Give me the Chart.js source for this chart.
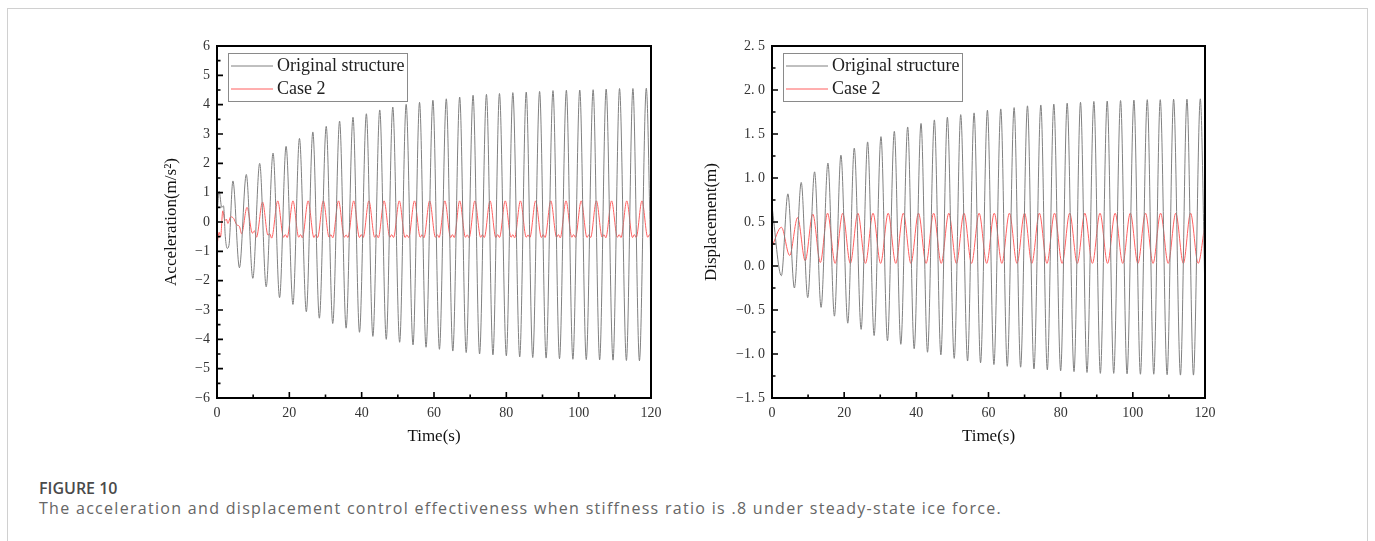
<!DOCTYPE html>
<html>
<head>
<meta charset="utf-8">
<script src="https://cdn.jsdelivr.net/npm/chart.js@4.4.0/dist/chart.umd.min.js"></script>
<style>
    html, body { margin: 0; padding: 0; background: #fff; }
    body { width: 1375px; height: 541px; position: relative; overflow: hidden; }
    #frame { position: absolute; left: 7px; top: 8px; width: 1359px; height: 620px; border: 1px solid #d0d0d0; }
    .box { position: absolute; top: 30px; height: 430px; }
    #accBox { left: 150px; width: 520px; }
    #dispBox { left: 690px; width: 535px; }
    #figLabel { position: absolute; left: 39px; top: 477px; font: 600 16px "Open Sans"; color: #4a4a4a; }
    #caption { position: absolute; left: 39px; top: 497px; font: 16px "Open Sans"; letter-spacing: 1.3px; color: #666; white-space: nowrap; }
</style>
</head>
<body>
<div id="frame"></div>
<div class="box" id="accBox"><canvas id="accChart"></canvas></div>
<div class="box" id="dispBox"><canvas id="dispChart"></canvas></div>
<div id="figLabel">FIGURE 10</div>
<div id="caption">The acceleration and displacement control effectiveness when stiffness ratio is .8 under steady-state ice force.</div>
<script>
// time axis
const xTicks = [0, 20, 40, 60, 80, 100, 120];
const xTickLabels = ['0', '20', '40', '60', '80', '100', '120'];

// acceleration axis
const accTicks = [-6, -5, -4, -3, -2, -1, 0, 1, 2, 3, 4, 5, 6];
const accTickLabels = ['\u22126', '\u22125', '\u22124', '\u22123', '\u22122', '\u22121', '0', '1', '2', '3', '4', '5', '6'];

// displacement axis
const dispTicks = [-1.5, -1, -0.5, 0, 0.5, 1, 1.5, 2, 2.5];
const dispTickLabels = ['\u22121. 5', '\u22121. 0', '\u22120. 5', '0. 0', '0. 5', '1. 0', '1. 5', '2. 0', '2. 5'];

const seriesNames = ['Original structure', 'Case 2'];

// original structure: times of the peaks and troughs (same for both responses)
const origPeakT = [4.4, 8.1, 11.8, 15.5, 19.1, 22.8, 26.5, 30.2, 33.9, 37.6, 41.3, 45.0, 48.6, 52.3, 56.0, 59.7,
    63.4, 67.1, 70.8, 74.5, 78.1, 81.8, 85.5, 89.2, 92.9, 96.6, 100.3, 104.0, 107.6, 111.3, 115.0, 118.7];
const origTroughT = [6.2, 9.9, 13.6, 17.3, 21.0, 24.7, 28.3, 32.0, 35.7, 39.4, 43.1, 46.8, 50.5, 54.2, 57.8, 61.5,
    65.2, 68.9, 72.6, 76.3, 80.0, 83.7, 87.3, 91.0, 94.7, 98.4, 102.1, 105.8, 109.5, 113.2, 116.8];

// acceleration, original structure
const accOrigStartT = [0, 0.6, 1.3, 1.8, 2.3, 2.8, 3.3];
const accOrigStartV = [0.2, 1.05, 0.5, 0.55, -0.5, -0.9, -0.8];
const accOrigPeakV = [1.40, 1.62, 2.00, 2.35, 2.58, 2.85, 3.07, 3.26, 3.44, 3.57, 3.69, 3.82, 3.92, 4.01, 4.08, 4.15,
    4.20, 4.26, 4.32, 4.35, 4.38, 4.41, 4.43, 4.45, 4.48, 4.49, 4.50, 4.51, 4.53, 4.55, 4.55, 4.56];
const accOrigTroughV = [-1.56, -1.92, -2.21, -2.58, -2.81, -3.06, -3.28, -3.46, -3.62, -3.76, -3.90, -4.00, -4.10, -4.19, -4.27, -4.34,
    -4.40, -4.45, -4.50, -4.53, -4.56, -4.60, -4.62, -4.64, -4.66, -4.68, -4.69, -4.70, -4.71, -4.72, -4.73];
const accOrigEnd = [120, -1.8];

// acceleration, case 2
const caseAccT = [
    0, 0.6, 1.0, 1.6, 2.2, 2.6, 3.0, 3.8, 4.6, 5.5, 6.2, 6.8,
    8.3, 9.8, 10.4, 10.9,
    12.6, 14.1, 14.6, 15.1,
    16.8, 18.4, 18.9, 19.4,
    21.0, 22.6, 23.1, 23.6,
    25.2, 26.8, 27.3, 27.8,
    29.4, 31.0, 31.5, 32.0,
    33.6, 35.2, 35.7, 36.2,
    37.8, 39.4, 39.9, 40.4,
    42.0, 43.6, 44.1, 44.6,
    46.2, 47.8, 48.3, 48.8,
    50.4, 52.0, 52.5, 53.0,
    54.6, 56.2, 56.7, 57.2,
    58.8, 60.4, 60.9, 61.4,
    63.0, 64.6, 65.1, 65.6,
    67.1, 68.7, 69.2, 69.7,
    71.3, 72.9, 73.4, 73.9,
    75.5, 77.1, 77.6, 78.1,
    79.7, 81.3, 81.8, 82.3,
    83.9, 85.5, 86.0, 86.5,
    88.1, 89.7, 90.2, 90.7,
    92.3, 93.9, 94.4, 94.9,
    96.5, 98.1, 98.6, 99.1,
    100.7, 102.3, 102.8, 103.3,
    104.9, 106.5, 107.0, 107.5,
    109.1, 110.7, 111.2, 111.7,
    113.3, 114.9, 115.4, 115.9,
    117.5, 119.1, 119.6, 120
];
const caseAccV = [
    -0.80, -0.35, -0.50, 0.38, 0.05, 0.10, -0.05, 0.18, 0.12, -0.10, -0.15, -0.40,
    0.50, -0.38, -0.30, -0.52,
    0.68, -0.45, -0.40, -0.55,
    0.72, -0.52, -0.43, -0.53,
    0.72, -0.52, -0.43, -0.54,
    0.72, -0.53, -0.43, -0.53,
    0.72, -0.52, -0.43, -0.54,
    0.72, -0.52, -0.44, -0.53,
    0.72, -0.53, -0.43, -0.53,
    0.72, -0.52, -0.43, -0.54,
    0.72, -0.52, -0.43, -0.53,
    0.72, -0.53, -0.44, -0.53,
    0.72, -0.52, -0.43, -0.54,
    0.72, -0.52, -0.43, -0.53,
    0.72, -0.53, -0.43, -0.53,
    0.72, -0.52, -0.44, -0.54,
    0.72, -0.52, -0.43, -0.53,
    0.72, -0.53, -0.43, -0.53,
    0.72, -0.52, -0.43, -0.54,
    0.72, -0.52, -0.44, -0.53,
    0.72, -0.53, -0.43, -0.53,
    0.72, -0.52, -0.43, -0.54,
    0.72, -0.52, -0.43, -0.53,
    0.72, -0.53, -0.44, -0.53,
    0.72, -0.52, -0.43, -0.54,
    0.72, -0.52, -0.43, -0.53,
    0.72, -0.53, -0.43, -0.53,
    0.72, -0.52, -0.43, -0.50
];

// displacement, original structure
const dispOrigStartT = [0, 2.6];
const dispOrigStartV = [0.68, -0.11];
const dispOrigPeakV = [0.82, 0.95, 1.07, 1.17, 1.26, 1.34, 1.41, 1.47, 1.53, 1.58, 1.62, 1.66, 1.69, 1.72, 1.74, 1.77,
    1.785, 1.80, 1.82, 1.83, 1.84, 1.85, 1.86, 1.87, 1.875, 1.88, 1.885, 1.89, 1.89, 1.895, 1.895, 1.90];
const dispOrigTroughV = [-0.25, -0.36, -0.47, -0.57, -0.65, -0.72, -0.79, -0.85, -0.89, -0.94, -0.98, -1.01, -1.05, -1.08, -1.10, -1.12,
    -1.14, -1.15, -1.17, -1.18, -1.19, -1.20, -1.21, -1.22, -1.22, -1.225, -1.23, -1.23, -1.235, -1.24, -1.24];
const dispOrigEnd = [120, -0.35];

// displacement, case 2
const caseDispT = [0, 2.6, 4.9, 7.1, 9.2, 11.3, 13.4, 15.4, 17.5, 19.6, 21.7, 23.8, 25.9, 28.0, 30.1, 32.2,
    34.3, 36.4, 38.5, 40.6, 42.7, 44.8, 46.9, 49.0, 51.1, 53.2, 55.3, 57.4, 59.5, 61.6, 63.7, 65.8, 67.9, 70.0,
    72.0, 74.1, 76.2, 78.3, 80.4, 82.5, 84.6, 86.7, 88.8, 90.9, 93.0, 95.1, 97.2, 99.3, 101.4, 103.5, 105.6,
    107.7, 109.8, 111.9, 114.0, 116.0, 118.1, 120];
const caseDispV = [0.22, 0.44, 0.12, 0.55, 0.06, 0.59, 0.04, 0.60,
    0.03, 0.60, 0.03, 0.60, 0.03, 0.60, 0.03, 0.60, 0.03, 0.60, 0.03, 0.60, 0.03, 0.60, 0.03, 0.60,
    0.03, 0.60, 0.03, 0.60, 0.03, 0.60, 0.03, 0.60, 0.03, 0.60, 0.03, 0.60, 0.03, 0.60, 0.03, 0.60,
    0.03, 0.60, 0.03, 0.60, 0.03, 0.60, 0.03, 0.60, 0.03, 0.60, 0.03, 0.60, 0.03, 0.60, 0.03, 0.60,
    0.03, 0.48];

function pts(ts, vs) {
    return ts.map((t, i) => ({ x: t, y: vs[i] }));
}

function origSeries(startT, startV, peakV, troughV, end) {
    return pts(startT, startV)
        .concat(pts(origPeakT, peakV), pts(origTroughT, troughV), [{ x: end[0], y: end[1] }])
        .sort((a, b) => a.x - b.x);
}

const greyLine = 'rgb(128,128,128)';
const redLine = 'rgb(255,95,95)';
const serif = '"Liberation Serif", "Times New Roman", serif';

// box, inward ticks and inner legend
const frameAxes = {
    id: 'frameAxes',
    afterDatasetsDraw(chart) {
        const { ctx, chartArea: { left, right, top, bottom }, scales: { x, y } } = chart;
        const yt = chart.options.plugins.frameAxes.yTicks;
        ctx.save();
        ctx.strokeStyle = '#000';
        ctx.lineWidth = 1.6;
        ctx.beginPath();
        xTicks.forEach((v, i) => {
            const px = x.getPixelForValue(v);
            ctx.moveTo(px, bottom); ctx.lineTo(px, bottom - 6);
            if (i < xTicks.length - 1) {
                const pm = x.getPixelForValue((v + xTicks[i + 1]) / 2);
                ctx.moveTo(pm, bottom); ctx.lineTo(pm, bottom - 3.5);
            }
        });
        yt.forEach((v, i) => {
            const py = y.getPixelForValue(v);
            ctx.moveTo(left, py); ctx.lineTo(left + 6, py);
            if (i < yt.length - 1) {
                const pm = y.getPixelForValue((v + yt[i + 1]) / 2);
                ctx.moveTo(left, pm); ctx.lineTo(left + 3.5, pm);
            }
        });
        ctx.stroke();
        ctx.lineWidth = 2;
        ctx.strokeRect(left, top, right - left, bottom - top);

        // legend
        const lx = left + 11, ly = top + 7;
        ctx.fillStyle = '#fff';
        ctx.fillRect(lx, ly, 179, 48);
        ctx.strokeStyle = '#8a8a8a';
        ctx.lineWidth = 1;
        ctx.strokeRect(lx + 0.5, ly + 0.5, 179, 48);
        ctx.font = '18px ' + serif;
        ctx.textBaseline = 'middle';
        chart.data.datasets.forEach((ds, i) => {
            const ry = ly + 13 + i * 23;
            ctx.strokeStyle = ds.borderColor;
            ctx.lineWidth = 1;
            ctx.beginPath();
            ctx.moveTo(lx + 3, ry); ctx.lineTo(lx + 45, ry);
            ctx.stroke();
            ctx.fillStyle = '#222';
            ctx.fillText(ds.label, lx + 49, ry);
        });
        ctx.restore();
    }
};

function makeChart(id, data, yMin, yMax, yt, ytLabels, yTitle, axisWidth, padRight) {
    new Chart(document.getElementById(id), {
        type: 'line',
        data: {
            datasets: [
                {
                    label: seriesNames[0],
                    data: data[0],
                    borderColor: greyLine,
                    borderWidth: 1,
                    pointRadius: 0,
                    cubicInterpolationMode: 'monotone'
                },
                {
                    label: seriesNames[1],
                    data: data[1],
                    borderColor: redLine,
                    borderWidth: 1,
                    pointRadius: 0,
                    cubicInterpolationMode: 'monotone'
                }
            ]
        },
        options: {
            responsive: true,
            maintainAspectRatio: false,
            animation: false,
            events: [],
            layout: { padding: { top: 16, right: padRight, left: 0, bottom: 0 } },
            plugins: {
                legend: { display: false },
                tooltip: { enabled: false },
                frameAxes: { yTicks: yt }
            },
            scales: {
                x: {
                    type: 'linear',
                    min: 0,
                    max: 120,
                    afterBuildTicks: s => { s.ticks = xTicks.map(v => ({ value: v })); },
                    afterFit: s => { s.height = 62; },
                    grid: { display: false, drawTicks: false },
                    border: { display: false },
                    ticks: {
                        autoSkip: false,
                        maxRotation: 0,
                        padding: 7,
                        color: '#333',
                        font: { family: serif, size: 14 },
                        callback: (v, i) => xTickLabels[i]
                    },
                    title: {
                        display: true,
                        text: 'Time(s)',
                        color: '#111',
                        font: { family: serif, size: 17 },
                        padding: { top: 0, bottom: 13 }
                    }
                },
                y: {
                    type: 'linear',
                    min: yMin,
                    max: yMax,
                    afterBuildTicks: s => { s.ticks = yt.map(v => ({ value: v })); },
                    afterFit: s => { s.width = axisWidth; },
                    grid: { display: false, drawTicks: false },
                    border: { display: false },
                    ticks: {
                        autoSkip: false,
                        padding: 7,
                        color: '#333',
                        font: { family: serif, size: 14 },
                        callback: (v, i) => ytLabels[i]
                    },
                    title: {
                        display: true,
                        text: yTitle,
                        color: '#111',
                        font: { family: serif, size: 17 },
                        padding: { top: 11, bottom: 0 }
                    }
                }
            }
        },
        plugins: [frameAxes]
    });
}

makeChart('accChart',
    [origSeries(accOrigStartT, accOrigStartV, accOrigPeakV, accOrigTroughV, accOrigEnd), pts(caseAccT, caseAccV)],
    -6, 6, accTicks, accTickLabels, 'Acceleration(m/s\u00b2)', 67, 19);

makeChart('dispChart',
    [origSeries(dispOrigStartT, dispOrigStartV, dispOrigPeakV, dispOrigTroughV, dispOrigEnd), pts(caseDispT, caseDispV)],
    -1.5, 2.5, dispTicks, dispTickLabels, 'Displacement(m)', 82, 20);
</script>
</body>
</html>
